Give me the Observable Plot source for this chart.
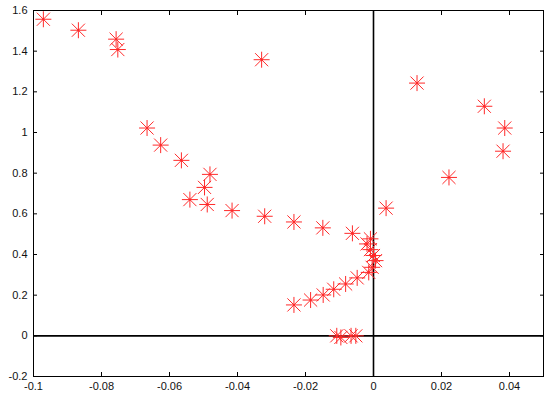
<!DOCTYPE html>
<html>
<head>
<meta charset="utf-8">
<script src="https://cdn.jsdelivr.net/npm/d3@7"></script>
<script src="https://cdn.jsdelivr.net/npm/@observablehq/plot@0.6"></script>
<style>
  html, body { margin: 0; padding: 0; background: #fff; }
  #chart svg { display: block; }
</style>
</head>
<body>
<div id="chart"></div>
<script>
const xValues = [
  -0.0971, -0.0868, -0.0757, -0.0752, -0.0329, -0.0666, -0.0626, -0.0565, -0.0540, -0.0481,
  -0.0497, -0.0489, -0.0416, -0.0320, -0.0234, -0.0149, -0.0062, -0.0009, -0.0019, -0.0009,
   0.0000,  0.0006, -0.0004, -0.0014, -0.0048, -0.0082, -0.0117, -0.0148, -0.0185, -0.0234,
  -0.0108, -0.0096, -0.0066, -0.0052,  0.0037,  0.0128,  0.0222,  0.0326,  0.0386,  0.0381
];
const yValues = [
   1.557, 1.503, 1.459, 1.408, 1.358, 1.022, 0.938, 0.863, 0.670, 0.794,
   0.730, 0.646, 0.616, 0.588, 0.560, 0.531, 0.504, 0.477, 0.452, 0.424,
   0.395, 0.370, 0.337, 0.312, 0.285, 0.255, 0.229, 0.201, 0.176, 0.152,
   0.000, -0.008, 0.000, 0.000, 0.628, 1.243, 0.779, 1.129, 1.022, 0.908
];
const xTicks = [-0.1, -0.08, -0.06, -0.04, -0.02, 0, 0.02, 0.04];
const yTicks = [-0.2, 0, 0.2, 0.4, 0.6, 0.8, 1, 1.2, 1.4, 1.6];

const points = xValues.map((x, i) => ({x, y: yValues[i]}));

const star = {
  draw(ctx, size) {
    const r = Math.sqrt(size / Math.PI);
    const d = r * 0.82;
    ctx.moveTo(-r, 0); ctx.lineTo(r, 0);
    ctx.moveTo(0, -r); ctx.lineTo(0, r);
    ctx.moveTo(-d, -d); ctx.lineTo(d, d);
    ctx.moveTo(-d, d); ctx.lineTo(d, -d);
    ctx.rect(-0.6, -0.6, 1.2, 1.2);
  }
};

const fmt = d => String(d);

const chart = Plot.plot({
  width: 550,
  height: 397,
  marginLeft: 33,
  marginRight: 7,
  marginTop: 10,
  marginBottom: 21,
  style: {fontFamily: "'Liberation Sans', Arial, sans-serif", fontSize: "11px", color: "#111", background: "#fff"},
  x: {domain: [-0.1, 0.05], axis: null, label: null},
  y: {domain: [-0.2, 1.6], axis: null, label: null},
  marks: [
    Plot.axisX(xTicks, {anchor: "bottom", label: null, tickSize: -4, tickPadding: 10, tickFormat: fmt, stroke: "#000"}),
    Plot.axisX(xTicks, {anchor: "top", label: null, tickSize: -4, tickFormat: () => "", stroke: "#000"}),
    Plot.axisY(yTicks, {anchor: "left", label: null, tickSize: -4, tickPadding: 10, tickFormat: fmt, stroke: "#000"}),
    Plot.axisY(yTicks, {anchor: "right", label: null, tickSize: -4, tickFormat: () => "", stroke: "#000"}),
    Plot.ruleX([0], {stroke: "#000", strokeWidth: 1.6}),
    Plot.ruleY([0], {stroke: "#000", strokeWidth: 1.6}),
    Plot.frame({stroke: "#000", strokeWidth: 1}),
    Plot.dot(points, {x: "x", y: "y", symbol: star, r: 8, stroke: "#ff2a2a", fill: "none", strokeWidth: 1})
  ]
});

document.getElementById("chart").appendChild(chart);
</script>
</body>
</html>
